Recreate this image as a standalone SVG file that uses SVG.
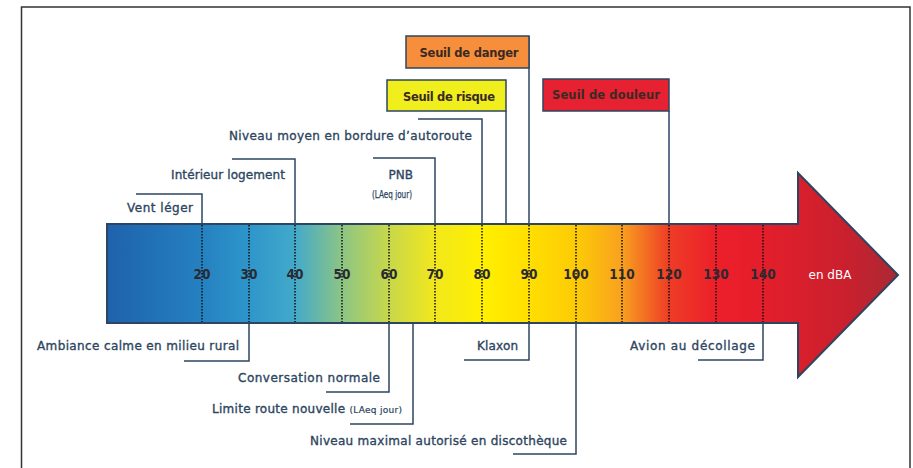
<svg xmlns="http://www.w3.org/2000/svg" width="913" height="468" viewBox="0 0 913 468">
<defs>
<linearGradient id="g" gradientUnits="userSpaceOnUse" x1="107" y1="0" x2="900" y2="0">
<stop offset="0" stop-color="#1e62ac"/>
<stop offset="0.117" stop-color="#2580c0"/>
<stop offset="0.18" stop-color="#2e96cb"/>
<stop offset="0.237" stop-color="#43a9ca"/>
<stop offset="0.296" stop-color="#8cc585"/>
<stop offset="0.356" stop-color="#c8d84a"/>
<stop offset="0.414" stop-color="#f2e71c"/>
<stop offset="0.473" stop-color="#fff000"/>
<stop offset="0.532" stop-color="#ffdf00"/>
<stop offset="0.593" stop-color="#fdca06"/>
<stop offset="0.649" stop-color="#f8a11f"/>
<stop offset="0.709" stop-color="#ee3c26"/>
<stop offset="0.769" stop-color="#ec1f2a"/>
<stop offset="0.827" stop-color="#e41e2b"/>
<stop offset="0.937" stop-color="#c8202e"/>
<stop offset="1" stop-color="#a82a34"/>
</linearGradient>
<style>
.lbl{font-family:"DejaVu Sans",sans-serif;font-size:12px;fill:#2d4560;stroke:#2d4560;stroke-width:0.35px;}
.num{font-family:"DejaVu Sans Condensed","DejaVu Sans",sans-serif;font-size:13.5px;font-weight:bold;fill:#2a2a30;text-anchor:middle;}
.box{stroke:#2d4560;stroke-width:1.5;}
.btxt{font-family:"DejaVu Sans",sans-serif;font-size:11.5px;font-weight:bold;fill:#3a2a24;text-anchor:middle;}
.lead{fill:none;stroke:#2d4560;stroke-width:1.5;}
.tick{stroke:#111;stroke-width:1.5;stroke-dasharray:1.5 1.5;}
</style>
</defs>
<rect x="21.5" y="7" width="888.5" height="470" fill="#fff" stroke="#333" stroke-width="1.5"/>
<g id="arrow">
<path d="M107,224 H798 V173 L898,275 L798,377 V323 H107 Z" fill="url(#g)" stroke="#2d4560" stroke-width="2"/>
<g id="ticks">
<line class="tick" x1="202" y1="225" x2="202" y2="322"/>
<line class="tick" x1="249" y1="225" x2="249" y2="322"/>
<line class="tick" x1="295" y1="225" x2="295" y2="322"/>
<line class="tick" x1="342" y1="225" x2="342" y2="322"/>
<line class="tick" x1="389" y1="225" x2="389" y2="322"/>
<line class="tick" x1="435" y1="225" x2="435" y2="322"/>
<line class="tick" x1="482" y1="225" x2="482" y2="322"/>
<line class="tick" x1="529" y1="225" x2="529" y2="322"/>
<line class="tick" x1="576" y1="225" x2="576" y2="322"/>
<line class="tick" x1="622" y1="225" x2="622" y2="322"/>
<line class="tick" x1="669" y1="225" x2="669" y2="322"/>
<line class="tick" x1="716" y1="225" x2="716" y2="322"/>
<line class="tick" x1="763" y1="225" x2="763" y2="322"/>
</g>
<g id="numbers">
<text class="num" x="202" y="279">20</text>
<text class="num" x="249" y="279">30</text>
<text class="num" x="295" y="279">40</text>
<text class="num" x="342" y="279">50</text>
<text class="num" x="389" y="279">60</text>
<text class="num" x="435" y="279">70</text>
<text class="num" x="482" y="279">80</text>
<text class="num" x="529" y="279">90</text>
<text class="num" x="576" y="279">100</text>
<text class="num" x="622" y="279">110</text>
<text class="num" x="669" y="279">120</text>
<text class="num" x="716" y="279">130</text>
<text class="num" x="763" y="279">140</text>
</g>
<text x="830" y="279" font-family="DejaVu Sans,sans-serif" font-size="12" fill="#fff" text-anchor="middle">en dBA</text>
</g>
<g id="connectors">
<polyline class="lead" points="136,194 202,194 202,224"/>
<polyline class="lead" points="232,159 295,159 295,224"/>
<polyline class="lead" points="418,119 482,119 482,224"/>
<polyline class="lead" points="373,158 435,158 435,224"/>
<polyline class="lead" points="506,111 506,224"/>
<polyline class="lead" points="529,36 529,224"/>
<polyline class="lead" points="669,111 669,224"/>
<polyline class="lead" points="249,323 249,361 184,361"/>
<polyline class="lead" points="389,323 389,392 326,392"/>
<polyline class="lead" points="413,323 413,424 350,424"/>
<polyline class="lead" points="576,323 576,454 513,454"/>
<polyline class="lead" points="529,323 529,360 464,360"/>
<polyline class="lead" points="763,323 763,360 698,360"/>
</g>
<g id="seuil-danger">
<rect class="box" x="406" y="36" width="123" height="32" fill="#f68e3c"/>
<text class="btxt" x="469" y="57" textLength="99">Seuil de danger</text>
</g>
<g id="seuil-risque">
<rect class="box" x="387" y="80" width="119" height="31" fill="#f1ee1e"/>
<text class="btxt" x="449" y="101" textLength="92">Seuil de risque</text>
</g>
<g id="seuil-douleur">
<rect class="box" x="543" y="79" width="126" height="32" fill="#e62131"/>
<text class="btxt" x="606" y="99" textLength="108">Seuil de  douleur</text>
</g>
<g id="vent-leger"><text class="lbl" x="193" y="212" text-anchor="end" textLength="66">Vent léger</text></g>
<g id="interieur-logement"><text class="lbl" x="285" y="179" text-anchor="end" textLength="114">Intérieur logement</text></g>
<g id="niveau-moyen"><text class="lbl" x="472" y="140" text-anchor="end" textLength="243">Niveau moyen en bordure d’autoroute</text></g>
<g id="pnb">
<text class="lbl" x="413" y="179" text-anchor="end" font-size="13">PNB</text>
<text class="lbl" x="412" y="198" text-anchor="end" style="font-size:10px;stroke-width:0.25px" textLength="40" lengthAdjust="spacingAndGlyphs">(LAeq jour)</text>
</g>
<g id="ambiance"><text class="lbl" x="239" y="350" text-anchor="end" textLength="202">Ambiance calme en milieu rural</text></g>
<g id="conversation"><text class="lbl" x="380" y="382" text-anchor="end" textLength="142">Conversation normale</text></g>
<g id="limite-route"><text class="lbl" x="402" y="413" text-anchor="end" textLength="190">Limite route nouvelle <tspan style="font-size:9px;stroke-width:0.2px">(LAeq jour)</tspan></text></g>
<g id="niveau-max"><text class="lbl" x="567" y="445" text-anchor="end" textLength="257">Niveau maximal autorisé en discothèque</text></g>
<g id="klaxon"><text class="lbl" x="518" y="350" text-anchor="end" textLength="41">Klaxon</text></g>
<g id="avion"><text class="lbl" x="755" y="350" text-anchor="end" textLength="125">Avion au décollage</text></g>
</svg>
